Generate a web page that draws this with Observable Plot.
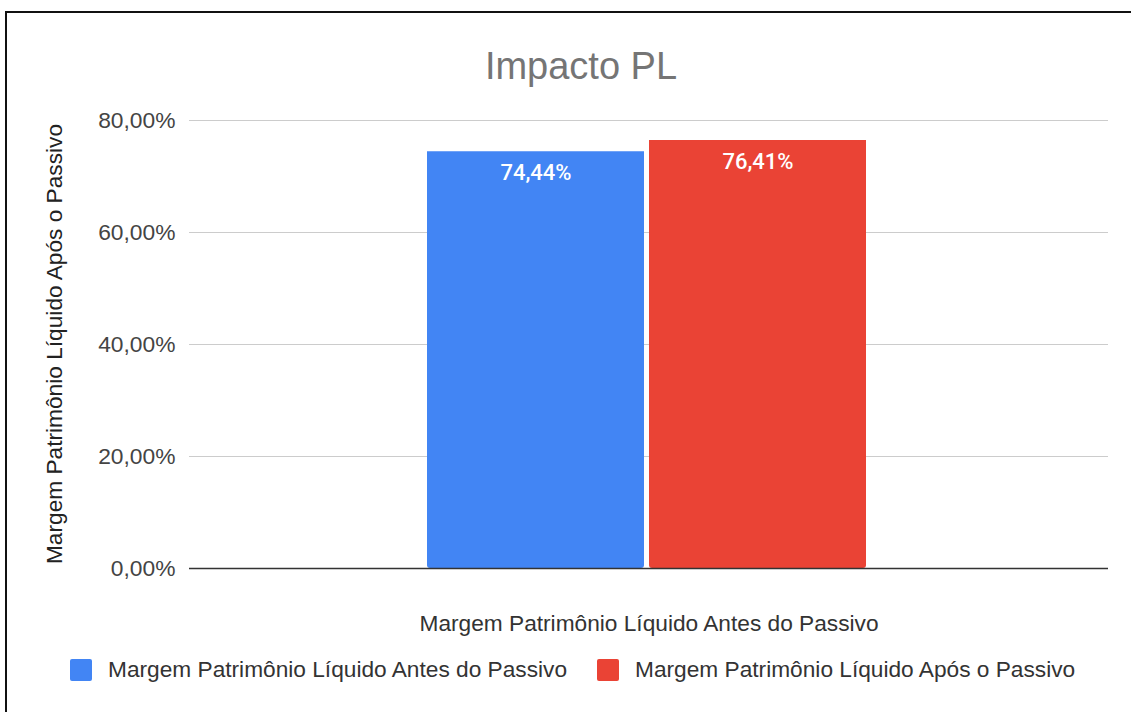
<!DOCTYPE html>
<html>
<head>
<meta charset="utf-8">
<script src="https://cdn.jsdelivr.net/npm/d3@7"></script>
<script src="https://cdn.jsdelivr.net/npm/@observablehq/plot@0.6"></script>
<style>
  html, body { margin: 0; padding: 0; background: #fff; overflow: hidden; }
  #root { position: relative; width: 1131px; height: 712px; overflow: hidden; font-family: "Liberation Sans", Arial, sans-serif; }
  #frame { position: absolute; left: 5px; top: 11px; width: 2000px; height: 2000px; border-top: 2px solid #111; border-left: 2px solid #111; }
  #chart { position: absolute; left: 0; top: 0; }
  #title { position: absolute; left: 581px; top: 47px; transform: translateX(-50%); font-size: 38px; line-height: 38px; color: #757575; white-space: nowrap; }
  #ylabel { position: absolute; left: 54px; top: 344px; transform: translate(-50%, -50%) rotate(-90deg); font-size: 22.7px; line-height: 23px; color: #222; white-space: nowrap; }
  #legend { position: absolute; left: 70px; top: 658px; display: flex; align-items: center; height: 23px; }
  .item { display: flex; align-items: center; margin-right: 30px; }
  .swatch { width: 22px; height: 22px; border-radius: 2px; margin-right: 16px; }
  .ltext { font-size: 22.7px; line-height: 23px; color: #333; white-space: nowrap; }
</style>
</head>
<body>
<div id="root">
  <div id="frame"></div>
  <div id="chart"></div>
  <div id="title"></div>
  <div id="ylabel"></div>
  <div id="legend"></div>
</div>
<script>
const title = "Impacto PL";
const yLabel = "Margem Patrimônio Líquido Após o Passivo";
const category = "Margem Patrimônio Líquido Antes do Passivo";
const series = ["Margem Patrimônio Líquido Antes do Passivo", "Margem Patrimônio Líquido Após o Passivo"];
const values = [74.44, 76.41];
const colors = ["#4285F4", "#EA4335"];
const yTicks = [0, 20, 40, 60, 80];

const data = series.map((s, i) => ({category, series: s, value: values[i]}));
const fmt = v => v.toFixed(2).replace(".", ",") + "%";

const chart = Plot.plot({
  width: 1131,
  height: 640,
  marginTop: 120,
  marginLeft: 189,
  marginRight: 23,
  marginBottom: 72,
  style: {fontFamily: "'Liberation Sans', Arial, sans-serif", fontSize: "22.8px", color: "#444", background: "transparent", overflow: "visible"},
  x: {domain: series, range: [427, 866], paddingInner: 0.023, paddingOuter: 0, axis: null},
  y: {domain: [0, 80], ticks: yTicks, tickFormat: fmt, tickSize: 0, tickPadding: 14, label: null},
  color: {domain: series, range: colors},
  marks: [
    Plot.ruleY(yTicks.filter(d => d > 0), {stroke: "#cccccc", strokeWidth: 1.2}),
    Plot.barY(data, {x: "series", y: "value", fill: "series", ry2: 3}),
    Plot.ruleY([0], {stroke: "#333333", strokeWidth: 1.4}),
    Plot.text(data, {x: "series", y: "value", text: d => fmt(d.value), dy: 21, fill: "white", fontSize: 22, fontFamily: "Roboto, sans-serif", fontWeight: 500, lineAnchor: "middle"}),
    Plot.text([category], {frameAnchor: "bottom", dy: 55.6, text: d => d, fill: "#333", fontSize: 22.7, lineAnchor: "middle"})
  ]
});
document.getElementById("chart").appendChild(chart);

document.getElementById("title").textContent = title;
document.getElementById("ylabel").textContent = yLabel;

const legend = document.getElementById("legend");
series.forEach((s, i) => {
  const item = document.createElement("div");
  item.className = "item";
  const sw = document.createElement("div");
  sw.className = "swatch";
  sw.style.background = colors[i];
  const t = document.createElement("div");
  t.className = "ltext";
  t.textContent = s;
  item.appendChild(sw);
  item.appendChild(t);
  legend.appendChild(item);
});
</script>
</body>
</html>
